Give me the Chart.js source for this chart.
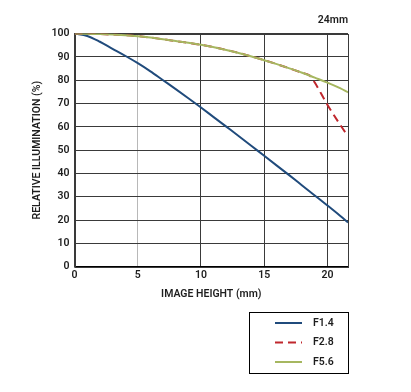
<!DOCTYPE html>
<html>
<head>
<meta charset="utf-8">
<script src="https://cdn.jsdelivr.net/npm/chart.js@4.4.1/dist/chart.umd.min.js"></script>
<style>
  html, body { margin: 0; padding: 0; background: #fff; }
  #wrap { width: 411px; height: 392px; }
</style>
</head>
<body>
<div id="wrap"><canvas id="illum" width="411" height="392"></canvas></div>
<script>
// image height (mm) and relative illumination (%)
const heightF14 = [0, 1, 2, 3, 4, 5, 6, 7, 8, 9, 10, 11, 12, 13, 14, 15, 16, 17, 18, 19, 20, 21, 21.63];
const illumF14 = [100, 99, 96.5, 93.5, 90.5, 87.3, 83.8, 80, 76.2, 72.3, 68.3, 64.2, 60.1, 56, 51.8, 47.6, 43.4, 39.2, 34.9, 30.6, 26.3, 21.9, 19];

const heightF28 = [0, 2, 4, 5, 6, 8, 10, 12, 14, 15, 16, 17, 18, 18.6, 19, 20, 21, 21.63];
const illumF28 = [100, 99.8, 99.3, 98.9, 98.3, 96.8, 95.2, 93, 90.2, 88.6, 86.9, 85.1, 83.2, 82, 79, 69.5, 61, 56];

const heightF56 = [0, 2, 4, 5, 6, 8, 10, 12, 14, 15, 16, 17, 18, 19, 20, 21, 21.63];
const illumF56 = [100, 99.8, 99.3, 98.9, 98.3, 96.8, 95.2, 93, 90.2, 88.6, 86.9, 85.1, 83.2, 81.1, 79, 76.6, 74.8];

const seriesLabels = ["F1.4", "F2.8", "F5.6"];
const xTicks = [0, 5, 10, 15, 20];
const xMax = 21.63;

function pts(xs, ys) {
	return xs.map((x, i) => ({ x: x, y: ys[i] }));
}

const inkColour = "#1e1e1e";
const gridColour = "#3a3a3a";
const labelFont = { family: "Roboto", size: 10.5, weight: "600" };

// frame round the plot area (right edge is not on a tick)
const framePlugin = {
	id: "frame",
	beforeDatasetsDraw(chart) {
		const a = chart.chartArea;
		const ctx = chart.ctx;
		ctx.save();
		ctx.strokeStyle = gridColour;
		ctx.lineWidth = 1;
		ctx.strokeRect(Math.round(a.left) + 0.5, Math.round(a.top) + 0.5,
			Math.round(a.right - a.left), Math.round(a.bottom - a.top));
		ctx.restore();
	},
};

// boxed legend below the plot, right aligned
const boxLegend = {
	id: "boxLegend",
	afterDraw(chart) {
		const ctx = chart.ctx;
		const a = chart.chartArea;
		const right = Math.round(a.right);
		const left = right - 99;
		const top = 312;
		ctx.save();
		ctx.strokeStyle = "#000";
		ctx.lineWidth = 1;
		ctx.strokeRect(left + 0.5, top + 0.5, 99, 61);
		ctx.font = "600 10.5px Roboto";
		ctx.textBaseline = "middle";
		ctx.fillStyle = inkColour;
		chart.data.datasets.forEach((ds, i) => {
			const y = top + 11 + i * 19.5;
			ctx.beginPath();
			ctx.strokeStyle = ds.borderColor;
			ctx.lineWidth = 2;
			ctx.setLineDash(ds.borderDash || []);
			ctx.moveTo(left + 26, y);
			ctx.lineTo(left + 53, y);
			ctx.stroke();
			ctx.setLineDash([]);
			ctx.fillText(ds.label, left + 64, y);
		});
		ctx.restore();
	},
};

new Chart(document.getElementById("illum"), {
	type: "line",
	data: {
		datasets: [
			{
				label: seriesLabels[0],
				data: pts(heightF14, illumF14),
				borderColor: "#204b7c",
				borderWidth: 2,
				order: 2,
			},
			{
				label: seriesLabels[1],
				data: pts(heightF28, illumF28),
				borderColor: "#c0272d",
				borderWidth: 2,
				borderDash: [8, 5],
				order: 1,
			},
			{
				label: seriesLabels[2],
				data: pts(heightF56, illumF56),
				borderColor: "#a6b760",
				borderWidth: 2,
				order: 0,
			},
		],
	},
	options: {
		responsive: false,
		animation: false,
		events: [],
		layout: {
			padding: { left: 31, right: 63, top: 10, bottom: 91 },
		},
		elements: {
			point: { radius: 0 },
			line: { tension: 0.4, cubicInterpolationMode: "monotone" },
		},
		scales: {
			x: {
				type: "linear",
				min: 0,
				max: xMax,
				afterBuildTicks: (scale) => {
					scale.ticks = xTicks.map((v) => ({ value: v }));
				},
				ticks: {
					color: inkColour,
					font: labelFont,
					padding: 2,
				},
				grid: {
					color: (c) => (c.tick && c.tick.value === 5 ? "#b8b8b8" : gridColour),
					drawTicks: false,
				},
				border: { color: "#000", width: 1.5 },
				title: {
					display: true,
					text: "IMAGE HEIGHT (mm)",
					color: inkColour,
					font: labelFont,
					padding: { top: 5, bottom: 0 },
				},
			},
			y: {
				min: 0,
				max: 100,
				ticks: {
					stepSize: 10,
					color: inkColour,
					font: labelFont,
					padding: 5,
				},
				grid: { color: gridColour, drawTicks: false },
				border: { color: gridColour },
				title: {
					display: true,
					text: "RELATIVE ILLUMINATION (%)",
					color: inkColour,
					font: labelFont,
					padding: { top: 0, bottom: 3 },
				},
			},
		},
		plugins: {
			legend: { display: false },
			tooltip: { enabled: false },
			title: {
				display: true,
				text: "24mm",
				align: "end",
				color: inkColour,
				font: labelFont,
				padding: { top: 4, bottom: 7 },
			},
		},
	},
	plugins: [framePlugin, boxLegend],
});
</script>
</body>
</html>
